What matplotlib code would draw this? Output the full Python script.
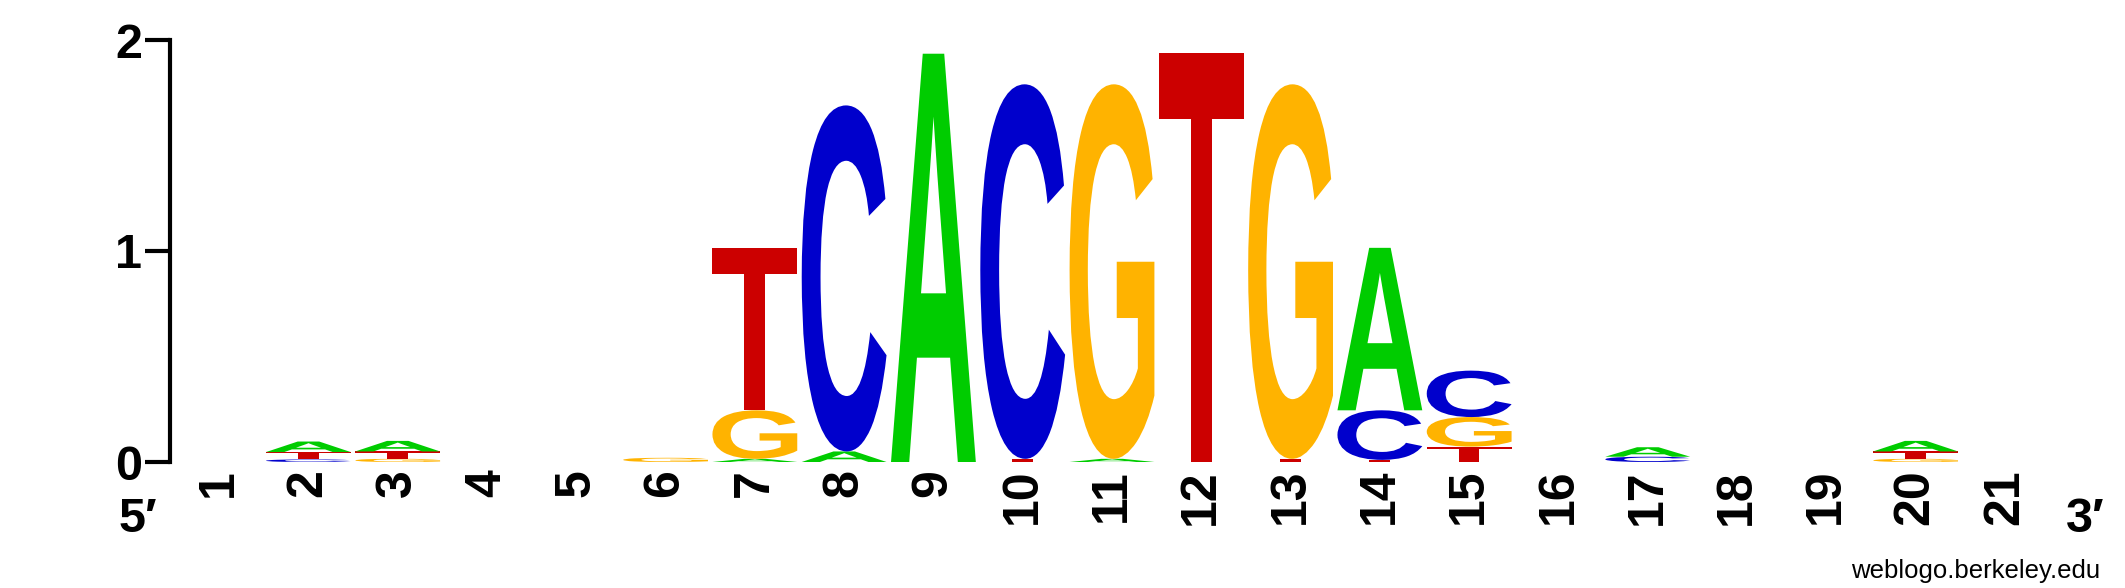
import matplotlib
matplotlib.use("Agg")
import matplotlib.pyplot as plt
from matplotlib.textpath import TextPath
from matplotlib.patches import PathPatch
from matplotlib.font_manager import FontProperties
from matplotlib.transforms import Affine2D

plt.rcParams['font.family'] = ['Liberation Sans', 'DejaVu Sans']

# information content (bits) per base at each position
positions = list(range(1, 22))
bits_A = [0, 0.05, 0.05, 0, 0, 0, 0.015, 0.05, 1.935, 0, 0.015, 0, 0, 0.77, 0, 0, 0.045, 0, 0, 0.05, 0]
bits_C = [0, 0.012, 0, 0, 0, 0, 0, 1.64, 0, 1.775, 0, 0, 0, 0.235, 0.22, 0, 0.025, 0, 0, 0, 0]
bits_G = [0, 0, 0.015, 0, 0, 0.02, 0.23, 0, 0, 0, 1.775, 0, 1.775, 0, 0.14, 0, 0, 0, 0, 0.015, 0]
bits_T = [0, 0.035, 0.035, 0, 0, 0, 0.77, 0, 0, 0.015, 0, 1.94, 0.015, 0.01, 0.073, 0, 0, 0, 0, 0.035, 0]

colors = {"A": "#00cc00", "C": "#0000cc", "G": "#ffb300", "T": "#cc0000"}
letter_font = FontProperties(family="Liberation Sans", weight="bold")


def draw_letter(ax, ch, x, y0, h, w=0.95):
    path = TextPath((0, 0), ch, size=1, prop=letter_font)
    ext = path.get_extents()
    tr = (Affine2D().translate(-ext.x0, -ext.y0)
          .scale(w / ext.width, h / ext.height)
          .translate(x - w / 2, y0))
    ax.add_patch(PathPatch(tr.transform_path(path), facecolor=colors[ch],
                           edgecolor="none"))


fig = plt.figure(figsize=(21.25, 5.88), dpi=100)
ax = fig.add_axes([170 / 2125, 126 / 588, 1884 / 2125, 422 / 588])

for i, pos in enumerate(positions):
    col = [("A", bits_A[i]), ("C", bits_C[i]), ("G", bits_G[i]), ("T", bits_T[i])]
    col = sorted([c for c in col if c[1] > 0], key=lambda c: c[1])
    y = 0.0
    for ch, h in col:
        draw_letter(ax, ch, pos, y, h)
        y += h

ax.set_xlim(0.45, 21.55)
ax.set_ylim(0, 2)
for s in ["top", "right", "bottom"]:
    ax.spines[s].set_visible(False)
ax.spines["left"].set_linewidth(3)

ax.set_yticks([0, 1, 2])
ax.set_yticklabels(["0", "1", "2"], fontsize=35, fontweight="bold")
ax.tick_params(axis="y", length=18, width=3, pad=2)

ax.set_xticks(positions)
ax.set_xticklabels([str(p) for p in positions], fontsize=36, fontweight="bold",
                   rotation=90)
ax.tick_params(axis="x", length=0, pad=5)

fig.text(138 / 2125, 1 - 520 / 588, "5\u2032", fontsize=35, fontweight="bold",
         ha="center", va="center")
fig.text(2085 / 2125, 1 - 520 / 588, "3\u2032", fontsize=35, fontweight="bold",
         ha="center", va="center")
fig.text(2100 / 2125, 1 - 578 / 588, "weblogo.berkeley.edu", fontsize=18.5,
         ha="right", va="baseline")

fig.savefig("out.png", dpi=100)
